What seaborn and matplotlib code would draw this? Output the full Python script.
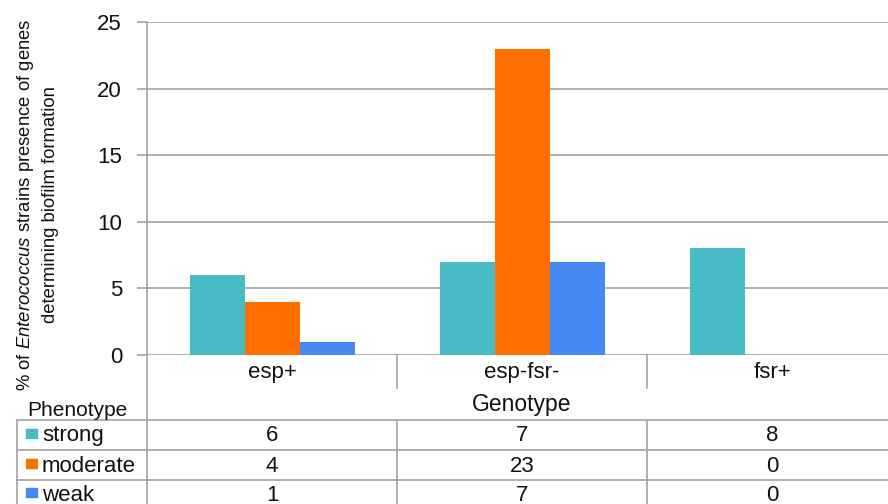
import matplotlib
matplotlib.use("Agg")
import matplotlib.pyplot as plt
import seaborn as sns
import pandas as pd
from matplotlib.lines import Line2D
from matplotlib.patches import Rectangle

genotypes = ["esp+", "esp-fsr-", "fsr+"]
phenotypes = ["strong", "moderate", "weak"]
strong = [6, 7, 8]
moderate = [4, 23, 0]
weak = [1, 7, 0]
colors = ["#47BCC6", "#FF6F00", "#4488F2"]
yticks = [0, 5, 10, 15, 20, 25]

sns.set_theme(style="white")
plt.rcParams['font.family'] = ['Liberation Sans', 'DejaVu Sans']
plt.rcParams['mathtext.fontset'] = 'custom'
plt.rcParams['mathtext.it'] = 'Liberation Sans:italic'
plt.rcParams['mathtext.rm'] = 'Liberation Sans'

rows = []
for ph, vals in zip(phenotypes, [strong, moderate, weak]):
    for g, v in zip(genotypes, vals):
        rows.append({"Genotype": g, "Phenotype": ph, "value": v})
df = pd.DataFrame(rows)

W, H = 888, 504
TXT = "#111111"
FS = 16
fig = plt.figure(figsize=(W / 100, H / 100), dpi=100)
x0, x1 = 147, 897
ytop, y0 = 22, 355
ax = fig.add_axes([x0 / W, (H - y0) / H, (x1 - x0) / W, (y0 - ytop) / H])

sns.barplot(data=df, x="Genotype", y="value", hue="Phenotype", order=genotypes,
            hue_order=phenotypes, palette=colors, width=0.66, gap=0, ax=ax,
            legend=False, saturation=1, linewidth=0, errorbar=None)

grid_c = "#A9A9A9"
ax.set_ylim(0, 25)
ax.set_xlim(-0.5, 2.5)
ax.set_yticks(yticks)
ax.yaxis.grid(True, color=grid_c, linewidth=1.3)
ax.set_axisbelow(True)
for s in ["top", "right", "bottom"]:
    ax.spines[s].set_visible(False)
ax.spines["left"].set_color(grid_c)
ax.spines["left"].set_linewidth(1.3)
ax.tick_params(axis="y", left=True, length=7, width=1.3, color=grid_c,
               labelsize=FS, pad=11, labelcolor=TXT)
ax.set_xticks([])
ax.set_xlabel("")
ax.set_ylabel("")

def fx(px):
    return px / W

def fy(py):
    return 1 - py / H

def vline(x, ya, yb):
    fig.add_artist(Line2D([fx(x), fx(x)], [fy(ya), fy(yb)], color=grid_c, lw=1.3))

def hline(y, xa, xb):
    fig.add_artist(Line2D([fx(xa), fx(xb)], [fy(y), fy(y)], color=grid_c, lw=1.3))

# axis line continues into table
vline(147, 355, 504)
# category separators
for xb in [397, 647]:
    vline(xb, 355, 388)
    vline(xb, 420, 504)
# category labels
cat_centers = [272, 522, 772]
for c, g in zip(cat_centers, genotypes):
    fig.text(fx(c), fy(378), g, ha="center", va="baseline", fontsize=FS, color=TXT)
fig.text(fx(522), fy(411), "Genotype", ha="center", va="baseline", fontsize=16.5, color=TXT)
fig.text(fx(27), fy(416), "Phenotype", ha="left", va="baseline", fontsize=15, color=TXT)

# table
vline(17, 420, 504)
for yl in [420, 450, 480]:
    hline(yl, 17, 888)
baselines = [441, 472, 501]
sq_centers = [433.5, 463, 492]
for bl, sc, ph, col, vals in zip(baselines, sq_centers, phenotypes, colors,
                                 [strong, moderate, weak]):
    fig.add_artist(Rectangle((fx(26), fy(sc + 4.5)), 11 / W, 9 / H, color=col,
                             transform=fig.transFigure))
    fig.text(fx(42), fy(bl), ph, ha="left", va="baseline", fontsize=FS, color=TXT)
    for c, v in zip(cat_centers, vals):
        fig.text(fx(c), fy(bl), str(v), ha="center", va="baseline", fontsize=FS, color=TXT)

fig.text(fx(37), fy(205),
         "% of $\\mathit{Enterococcus}$ strains presence of genes\ndetermining biofilm formation",
         rotation=90, ha="center", va="center", multialignment="center",
         fontsize=13.3, color=TXT, linespacing=1.5)

fig.savefig("out.png", dpi=100)
